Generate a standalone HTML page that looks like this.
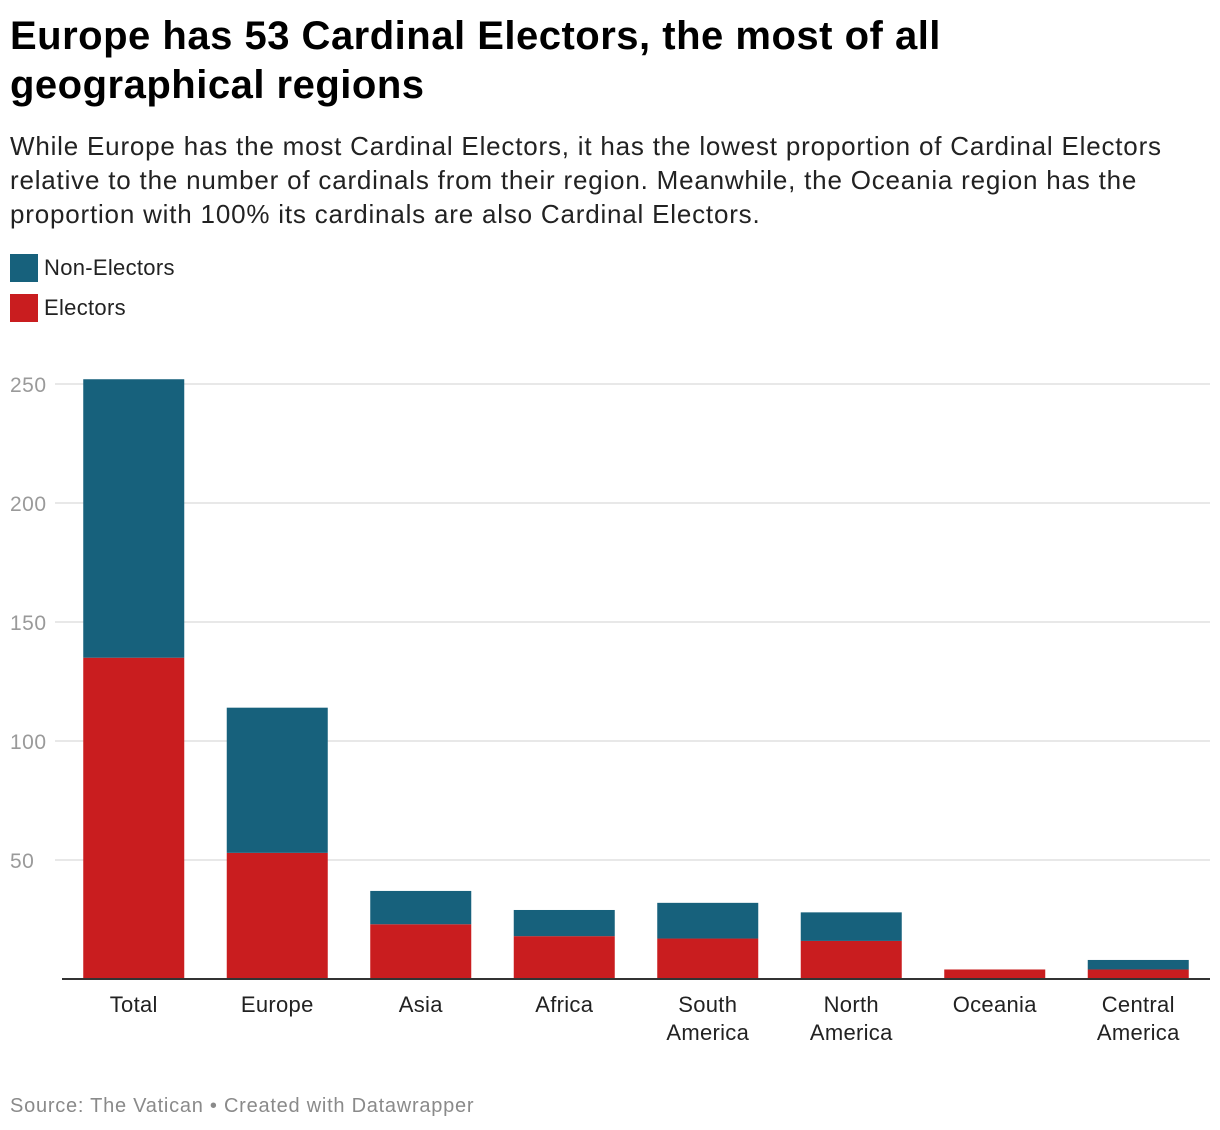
<!DOCTYPE html>
<html><head><meta charset="utf-8">
<style>
body{margin:0;background:#fff;font-family:"Liberation Sans",Roboto,sans-serif;}
#wrap{position:relative;width:1220px;height:1130px;overflow:hidden;}
h1{position:absolute;left:10px;top:12px;margin:0;font-size:40px;line-height:49px;font-weight:bold;color:#000;width:1210px;letter-spacing:0.5px;white-space:nowrap}
.sub{position:absolute;left:10px;top:129px;font-size:26px;line-height:34px;color:#222;width:1210px;letter-spacing:0.8px;white-space:nowrap}
.leg{position:absolute;left:10px;font-size:22px;color:#222;display:flex;align-items:center;letter-spacing:0.3px}
.leg span{display:inline-block;width:28px;height:28px;margin-right:6px}
.src{position:absolute;left:10px;top:1095px;font-size:20px;color:#8a8a8a;letter-spacing:0.75px}
</style></head><body>
<div id="wrap">
<h1>Europe has 53 Cardinal Electors, the most of all<br>geographical regions</h1>
<div class="sub">While Europe has the most Cardinal Electors, it has the lowest proportion of Cardinal Electors<br>relative to the number of cardinals from their region. Meanwhile, the Oceania region has the<br>proportion with 100% its cardinals are also Cardinal Electors.</div>
<div class="leg" style="top:254px"><span style="background:#17617c"></span>Non-Electors</div>
<div class="leg" style="top:294px"><span style="background:#c91d1f"></span>Electors</div>
<svg id="chart" width="1220" height="1130" style="position:absolute;left:0;top:0"></svg>
<div class="src">Source: The Vatican • Created with Datawrapper</div>
</div>
<script>
const categories=["Total","Europe","Asia","Africa","South\nAmerica","North\nAmerica","Oceania","Central\nAmerica"];
const totals=[252,114,37,29,32,28,4,8];
const electors=[135,53,23,18,17,16,4,4];
const ticks=[50,100,150,200,250];
const svg=document.getElementById('chart');
const NS="http://www.w3.org/2000/svg";
const x0=62,x1=1210,y0=979,yMax=250,yTop=384;
const band=(x1-x0)/categories.length,bw=101;
function y(v){return y0-(y0-yTop)*v/yMax;}
function bx(i){return x0+i*band+(band-bw)/2;}
function mk(t,a){const e=document.createElementNS(NS,t);for(const k in a)e.setAttribute(k,a[k]);svg.appendChild(e);return e;}
ticks.forEach(t=>{
 const l=mk('line',{x1:55,x2:x1,y1:y(t),y2:y(t),stroke:'#e0e0e0','stroke-width':1.5});
 
 
 const tx=mk('text',{x:10,y:y(t)+8,'font-size':21,fill:'#9a9a9a','font-family':'Liberation Sans, sans-serif','letter-spacing':'0.5'});
 tx.textContent=t;
 
 
});
categories.forEach((c,i)=>{
 const r1=mk('rect',{x:bx(i),y:y(electors[i]),width:bw,height:y0-y(electors[i]),fill:'#c91d1f'});
 
 
 const r2=mk('rect',{x:bx(i),y:y(totals[i]),width:bw,height:y(electors[i])-y(totals[i]),fill:'#17617c'});
 
 
 c.split('\n').forEach((ln,j)=>{
  const t=mk('text',{x:x0+i*band+band/2,y:1012+j*28,'font-size':22,fill:'#222','text-anchor':'middle','font-family':'Liberation Sans, sans-serif','letter-spacing':'0.3'});
  t.textContent=ln;
  
  
 });
});
const ax=mk('line',{x1:x0,x2:x1,y1:y0,y2:y0,stroke:'#333','stroke-width':2});


</script>
</body></html>
